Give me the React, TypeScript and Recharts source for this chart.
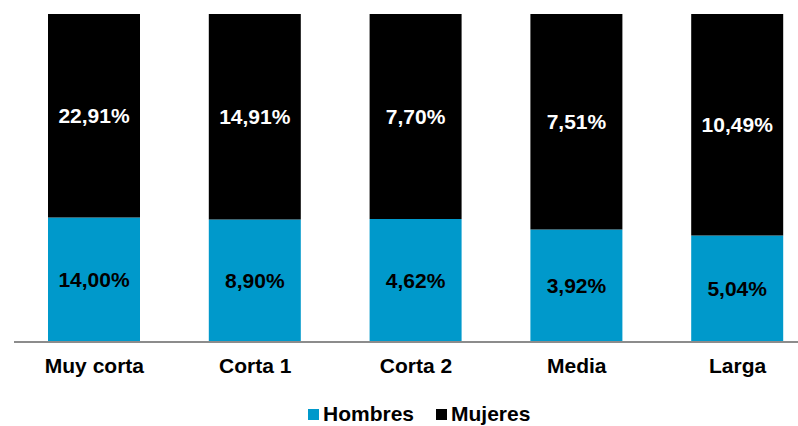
import { Bar, BarChart, LabelList, Legend, XAxis, YAxis } from "recharts";

const categories = ["Muy corta", "Corta 1", "Corta 2", "Media", "Larga"];
const hombres = [14.0, 8.9, 4.62, 3.92, 5.04];
const mujeres = [22.91, 14.91, 7.7, 7.51, 10.49];

const BLUE = "#0099CB";
const FONT = "'Liberation Sans', Arial, sans-serif";

const data = categories.map((name, i) => ({
	name,
	hombres: hombres[i],
	mujeres: mujeres[i],
}));

const formatPct = (v: unknown): string =>
	typeof v === "number" ? `${v.toFixed(2).replace(".", ",")}%` : "";

type LegendEntry = { value?: string; color?: string };

function renderLegend({ payload }: { payload?: LegendEntry[] }): JSX.Element {
	return (
		<div
			style={{
				display: "flex",
				alignItems: "center",
				paddingLeft: 308,
				fontFamily: FONT,
				fontWeight: 700,
				fontSize: 21,
				color: "#000",
			}}
		>
			{(payload ?? []).map((entry, i) => (
				<div
					key={entry.value}
					style={{
						display: "flex",
						alignItems: "center",
						marginLeft: i === 0 ? 0 : 22,
					}}
				>
					<span
						style={{
							display: "inline-block",
							width: 11,
							height: 11,
							background: entry.color,
							marginRight: 4,
						}}
					/>
					<span>{entry.value}</span>
				</div>
			))}
		</div>
	);
}

export default function App(): JSX.Element {
	return (
		<div
			style={{
				position: "absolute",
				left: 0,
				top: 0,
				width: 798,
				height: 426,
				overflow: "hidden",
				background: "#fff",
			}}
		>
			<BarChart
				width={830}
				height={426}
				data={data}
				stackOffset="expand"
				margin={{ top: 14, right: 12, left: 14, bottom: 18 }}
				barSize={92}
			>
				<XAxis
					dataKey="name"
					height={40}
					tickLine={false}
					tickSize={0}
					tickMargin={16}
					axisLine={{ stroke: "#8C8C8C", strokeWidth: 2 }}
					tick={{ fill: "#000", fontFamily: FONT, fontWeight: 700, fontSize: 21 }}
				/>
				<YAxis hide domain={[0, 1]} />
				<Legend
					content={renderLegend}
					wrapperStyle={{ top: 402, left: 0, width: 798, height: 26 }}
				/>
				<Bar dataKey="hombres" name="Hombres" stackId="a" fill={BLUE} isAnimationActive={false}>
					<LabelList
						dataKey="hombres"
						position="center"
						formatter={formatPct}
						fill="#000"
						style={{ fontFamily: FONT, fontWeight: 700, fontSize: 21 }}
					/>
				</Bar>
				<Bar dataKey="mujeres" name="Mujeres" stackId="a" fill="#000" isAnimationActive={false}>
					<LabelList
						dataKey="mujeres"
						position="center"
						formatter={formatPct}
						fill="#fff"
						style={{ fontFamily: FONT, fontWeight: 700, fontSize: 21 }}
					/>
				</Bar>
			</BarChart>
		</div>
	);
}
